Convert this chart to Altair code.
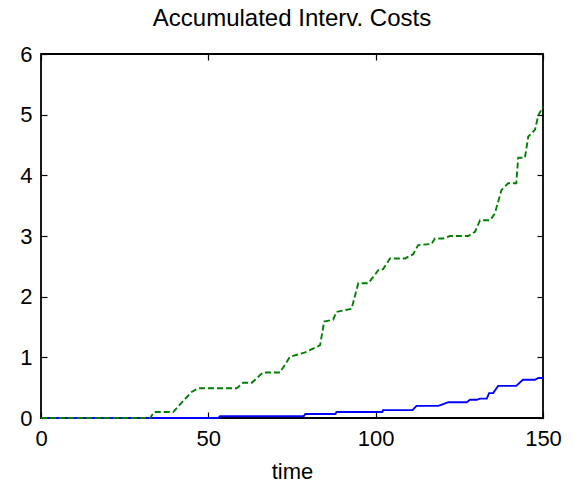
import altair as alt
import pandas as pd

# Accumulated intervention costs over time (two policies)
green_t = [0, 32.6, 33.8, 39.5, 45.0, 47.0, 58.5, 60.4, 63.0, 66.3, 71.4, 74.4,
           78.9, 83.4, 84.6, 87.3, 88.3, 92.8, 94.8, 97.8, 101.0, 102.2, 104.3,
           108.8, 111.2, 112.7, 116.7, 117.7, 120.2, 122.2, 127.7, 129.7, 131.2,
           134.2, 135.6, 137.6, 139.6, 142.0, 142.6, 144.6, 145.6, 147.6, 148.6, 150]
green_v = [0, 0, 0.10, 0.10, 0.43, 0.49, 0.49, 0.58, 0.58, 0.75, 0.75, 1.01,
           1.08, 1.20, 1.59, 1.62, 1.75, 1.80, 2.22, 2.22, 2.45, 2.45, 2.63,
           2.63, 2.70, 2.85, 2.87, 2.96, 2.96, 3.00, 3.00, 3.07, 3.26,
           3.26, 3.37, 3.76, 3.87, 3.87, 4.29, 4.29, 4.64, 4.75, 4.99, 5.13]

blue_t = [0, 53.0, 53.5, 78.5, 79.0, 88.0, 88.3, 102.0, 102.2, 111.0, 112.2,
          118.7, 120.2, 121.7, 127.2, 128.2, 130.2, 131.2, 133.2, 133.9, 135.1,
          136.6, 142.0, 144.0, 147.6, 148.6, 150]
blue_v = [0, 0, 0.03, 0.03, 0.066, 0.066, 0.10, 0.10, 0.13, 0.13, 0.20,
          0.20, 0.23, 0.26, 0.26, 0.30, 0.30, 0.32, 0.32, 0.41, 0.41,
          0.53, 0.53, 0.63, 0.63, 0.66, 0.66]

x_ticks = [0, 50, 100, 150]
y_ticks = [0, 1, 2, 3, 4, 5, 6]

green_df = pd.DataFrame({"time": green_t, "cost": green_v})
blue_df = pd.DataFrame({"time": blue_t, "cost": blue_v})

FONT = "Liberation Sans"
inward = alt.ExprRef(expr="-6")

x_scale = alt.Scale(domain=[0, 150], nice=False, zero=False)
y_scale = alt.Scale(domain=[0, 6], nice=False, zero=False)

# Blue series carries the top/right tick-only axes
blue = alt.Chart(blue_df).mark_line(color="#0000FF", strokeWidth=1.9).encode(
    x=alt.X("time:Q", scale=x_scale,
            axis=alt.Axis(orient="top", values=x_ticks, labels=False, title=None,
                          domain=False, grid=False, tickSize=inward,
                          tickColor="black", tickWidth=1.2)),
    y=alt.Y("cost:Q", scale=y_scale,
            axis=alt.Axis(orient="right", values=y_ticks, labels=False, title=None,
                          domain=False, grid=False, tickSize=inward,
                          tickColor="black", tickWidth=1.2)),
)

# Green dashed series carries the labelled bottom/left axes
green = alt.Chart(green_df).mark_line(color="#008000", strokeWidth=1.9,
                                      strokeDash=[6, 3]).encode(
    x=alt.X("time:Q", scale=x_scale,
            axis=alt.Axis(orient="bottom", values=x_ticks, title="time",
                          domain=False, grid=False, tickSize=inward,
                          tickColor="black", tickWidth=1.2, labelFlush=False,
                          labelFont=FONT, labelFontSize=22, labelColor="black",
                          labelPadding=16, titleFont=FONT, titleFontSize=22,
                          titleFontWeight="normal", titleColor="black",
                          titlePadding=12)),
    y=alt.Y("cost:Q", scale=y_scale,
            axis=alt.Axis(orient="left", values=y_ticks, title=None,
                          domain=False, grid=False, tickSize=inward,
                          tickColor="black", tickWidth=1.2, labelFlush=False,
                          labelFont=FONT, labelFontSize=22, labelColor="black",
                          labelPadding=15)),
)

chart = alt.layer(blue, green).resolve_scale(
    x="independent", y="independent"
).properties(
    width=502,
    height=364,
    title=alt.TitleParams("Accumulated Interv. Costs", font=FONT, fontSize=24,
                          fontWeight="normal", color="black", offset=12,
                          anchor="middle"),
    autosize=alt.AutoSizeParams(type="none"),
    padding={"left": 41, "top": 54, "right": 38, "bottom": 71},
    background="white",
).configure_view(
    stroke="black", strokeWidth=1.8
)

chart.save("out.html", embed_options={"renderer": "svg", "actions": False})
